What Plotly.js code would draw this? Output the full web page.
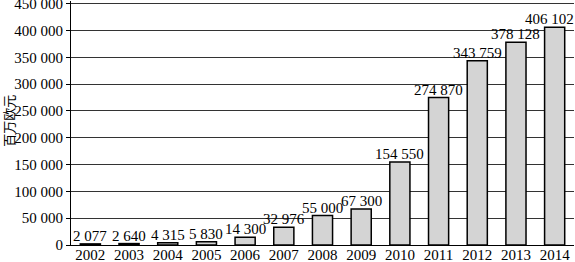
<!DOCTYPE html>
<html><head><meta charset="utf-8">
<script src="https://cdn.plot.ly/plotly-3.0.1.min.js"></script>
<style>html,body{margin:0;padding:0;background:#fff}#chart{width:575px;height:262px}</style>
</head><body><div id="chart"></div>
<script>
const years = ['2002','2003','2004','2005','2006','2007','2008','2009','2010','2011','2012','2013','2014'];
const values = [2077, 2640, 4315, 5830, 14300, 32976, 55000, 67300, 154550, 274870, 343759, 378128, 406102];
const yTickVals = [0, 50000, 100000, 150000, 200000, 250000, 300000, 350000, 400000, 450000];
const yTitle = '百万欧元';

const fmt = v => String(v).replace(/\B(?=(\d{3})+(?!\d))/g, ' ');
const font = {family: 'Liberation Serif', size: 15, color: '#000'};
const labelAnn = years.map((yr, i) => ({
  x: i, y: values[i], xref: 'x', yref: 'y', text: fmt(values[i]), showarrow: false,
  xanchor: 'center', yanchor: 'bottom', yshift: -2, xshift: i === years.length - 1 ? -5 : 0,
  font: font
}));

Plotly.newPlot('chart', [{
  type: 'bar', x: years, y: values,
  marker: {color: '#d4d4d4', line: {color: '#000', width: 1.5}},
  hoverinfo: 'none'
}], {
  width: 575, height: 262,
  margin: {l: 71, r: 1, t: 1.3, b: 17},
  separators: '. ',
  font: font,
  bargap: 0.48,
  paper_bgcolor: '#fff', plot_bgcolor: '#fff',
  showlegend: false,
  xaxis: {type: 'category', range: [-0.5, years.length - 0.5], showline: true, linecolor: '#000', linewidth: 1, ticks: '', tickfont: font, showgrid: false, ticklabelstandoff: -4},
  yaxis: {range: [0, 455000], tickvals: yTickVals, tickformat: ',d', showline: true, linecolor: '#000', linewidth: 1,
    ticks: 'outside', ticklen: 4, tickcolor: '#000', gridcolor: '#333', gridwidth: 1, zeroline: false, tickfont: font,
    automargin: false, ticklabeloverflow: 'allow'},
  annotations: labelAnn.concat([{text: yTitle, xref: 'paper', yref: 'paper', x: -62/503, y: 0.509, xanchor: 'center', yanchor: 'middle',
    textangle: -90, showarrow: false, font: {family: 'Noto Sans CJK SC', size: 13, color: '#000'}}])
}, {staticPlot: true});
</script></body></html>
